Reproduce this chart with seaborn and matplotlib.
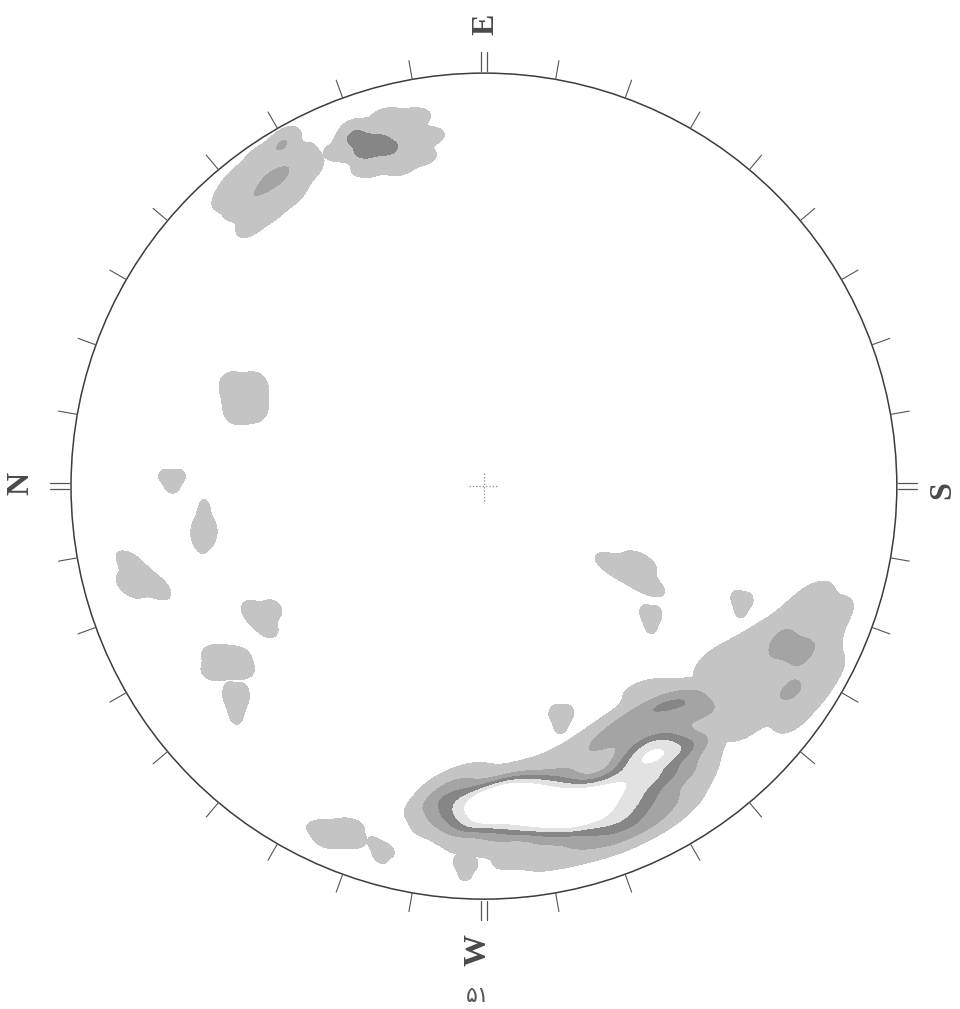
import matplotlib
matplotlib.use("Agg")
import matplotlib.pyplot as plt
from matplotlib.patches import Circle
from matplotlib.colors import ListedColormap, BoundaryNorm
import numpy as np
import seaborn as sns

# Poles on the equal-area net, primitive circle radius = 100.
# Each entry: (x, y, number of poles)
set_a = [(-61.0, 24.2, 1), (-55.5, 24.2, 1), (-60.0, 18.4, 1), (-55.5, 19.0, 1)]
set_b = [(-77.0, 2.4, 1), (-74.1, 2.4, 1), (-75.5, 0.0, 1)]
set_c = [(-67.8, -6.3, 1), (-69.5, -11.1, 1), (-66.1, -11.1, 1), (-68.0, -13.1, 1)]
set_d = [(-85.7, -18.6, 1), (-85.7, -24.2, 1), (-79.2, -24.5, 1), (-82.6, -22.3, 1)]
set_e = [(-56.2, -30.0, 1), (-51.3, -29.8, 1), (-52.3, -34.4, 1), (-54.7, -32.0, 1)]
set_f = [(-64.9, -40.7, 1), (-60.0, -41.2, 1), (-65.1, -44.8, 1), (-59.1, -44.5, 1)]
set_g = [(-61.5, -50.4, 1), (-58.6, -50.6, 1), (-60.0, -54.7, 1)]
set_j1 = [(-39.2, -82.8, 1), (-32.9, -82.3, 1), (-37.3, -85.7, 1), (-32.0, -85.7, 1)]
set_j2 = [(-26.4, -86.7, 1), (-23.5, -88.1, 1), (-25.2, -89.6, 1)]
set_k = [(-5.8, -91.0, 1), (-3.1, -91.3, 1), (-4.6, -93.7, 1)]
set_l = [(31.0, -18.9, 1), (37.8, -18.4, 1), (39.7, -24.0, 1), (35.3, -21.3, 1)]
set_l2 = [(39.2, -30.7, 1), (41.6, -31.0, 1), (40.4, -33.7, 1)]
set_m = [(61.3, -27.1, 1), (63.7, -27.6, 1), (62.2, -30.0, 1)]
set_n = [(17.4, -55.0, 1), (20.1, -55.0, 1), (18.6, -57.9, 1)]

set_h = [(-59.6, 74.1, 1), (-54.7, 78.9, 1), (-48.9, 82.6, 2), (-44.5, 79.4, 1),
         (-49.4, 75.3, 2), (-52.3, 73.6, 2), (-55.4, 70.4, 1), (-46.5, 71.2, 1),
         (-59.1, 68.0, 1), (-56.2, 63.9, 1), (-51.3, 67.3, 1), (-62.0, 70.4, 1),
         (-42.6, 76.8, 1)]

set_i = [(-34.9, 80.9, 1), (-30.5, 86.7, 1), (-23.2, 89.3, 1), (-16.9, 89.3, 1),
         (-13.6, 84.7, 1), (-15.5, 79.9, 1), (-20.8, 77.5, 1), (-28.1, 77.0, 1),
         (-31.2, 84.2, 2), (-27.1, 83.0, 3), (-23.2, 81.3, 2), (-28.8, 80.6, 2),
         (-24.7, 84.2, 1), (-19.4, 83.8, 1)]

set_arm = [(80.1, -27.6, 1), (85.0, -31.2, 1), (76.5, -30.5, 1), (72.4, -34.4, 1),
           (66.8, -37.3, 1), (60.8, -40.9, 1), (55.2, -43.8, 1), (55.9, -51.8, 1),
           (62.0, -49.4, 1), (68.0, -52.3, 1), (74.6, -55.4, 1), (63.2, -57.1, 1),
           (55.9, -58.6, 1), (81.8, -38.5, 1), (82.8, -44.5, 1), (79.4, -49.9, 1),
           (77.0, -42.6, 1), (66.8, -44.1, 1),
           (72.1, -38.5, 3), (76.5, -39.7, 3), (74.1, -49.4, 3)]

set_core = [
    # main maximum, western lobe
    (0.7, -75.3, 7), (0.7, -79.4, 7), (6.3, -73.6, 7), (6.3, -79.7, 7),
    (12.3, -74.1, 7), (12.3, -80.4, 7), (18.4, -74.8, 7), (18.4, -80.4, 7),
    (23.7, -76.0, 7), (23.7, -80.9, 7),
    # main maximum, eastern lobe
    (28.1, -76.0, 5), (32.9, -71.2, 5), (37.8, -65.9, 5), (41.4, -61.5, 5),
    (31.7, -80.9, 5), (36.6, -76.0, 5), (40.7, -70.7, 5), (43.8, -65.1, 5),
    # flanks
    (-9.4, -76.0, 3), (-7.0, -78.9, 3), (44.5, -52.5, 3), (49.9, -52.5, 3),
    (54.2, -54.7, 3),
    (-5.8, -72.4, 2), (-5.3, -82.8, 2), (2.7, -86.4, 2), (12.3, -87.6, 2),
    (22.0, -86.9, 2), (31.0, -85.2, 2), (39.0, -81.3, 2), (45.5, -76.0, 2),
    (49.4, -69.2, 2), (49.9, -62.7, 2), (22.0, -67.5, 2), (28.8, -62.7, 2),
    (34.1, -58.6, 2), (39.0, -54.7, 2),
    # margins
    (-14.3, -77.2, 1), (-10.7, -71.7, 1), (-3.4, -68.3, 1), (7.5, -68.0, 1),
    (17.2, -65.1, 1), (25.7, -61.0, 1), (31.7, -56.7, 1), (35.8, -49.4, 1),
    (41.4, -48.2, 1), (-13.1, -82.1, 1), (-6.3, -87.6, 1), (3.9, -92.0, 1),
    (13.6, -92.5, 1), (23.2, -90.1, 1), (32.9, -87.2, 1), (41.4, -82.8, 1),
    (47.5, -78.0, 1), (51.8, -71.7, 1), (53.5, -65.1, 1), (54.7, -60.3, 1),
    (52.3, -47.0, 1)]

cardinal_labels = ["E", "N", "W", "S"]   # at 90, 180, 270, 0 degrees
figure_number = "۵۱"

LIGHT, MID, DARK, PALE, WHITE = "#c4c4c4", "#a4a4a4", "#868686", "#e2e2e2", "#ffffff"

sns.set_theme(style="white")
plt.rcParams["font.family"] = ["DejaVu Sans"]

fig = plt.figure(figsize=(9.6, 10.09), dpi=100)
ax = fig.add_axes([0, 0, 1, 1])


def density(points, levels, colors, bw_adjust=1.0):
    arr = np.asarray(points, dtype=float)
    sns.kdeplot(x=arr[:, 0], y=arr[:, 1], weights=arr[:, 2], fill=True,
                levels=levels, bw_adjust=bw_adjust, ax=ax)
    cset = ax.collections[-1]
    # one grey per density band
    cset.set_cmap(ListedColormap(colors))
    cset.set_norm(BoundaryNorm(cset.levels, len(colors)))


for pts in [set_a, set_b, set_c, set_d, set_e, set_f, set_g, set_j1, set_j2,
            set_k, set_l, set_l2, set_m, set_n]:
    density(pts, [0.18, 1], [LIGHT])

density(set_h, [0.04, 0.82, 1], [LIGHT, MID], bw_adjust=0.6)
density(set_i, [0.04, 0.6, 1], [LIGHT, DARK], bw_adjust=0.6)
density(set_arm, [0.05, 0.8, 1], [LIGHT, MID], bw_adjust=0.6)
density(set_core, [0.05, 0.2, 0.38, 0.5, 0.66, 1],
        [LIGHT, MID, DARK, PALE, WHITE], bw_adjust=0.55)

# keep the shading inside the primitive circle
clip = Circle((0, 0), 100, transform=ax.transData)
for coll in ax.collections:
    coll.set_clip_path(clip)

# primitive circle
ax.add_patch(Circle((0, 0), 100, fill=False, lw=1.1, ec="#3c3c3c", zorder=5))

# 10-degree ticks and doubled cardinal marks
for az in range(0, 360, 10):
    t = np.deg2rad(az)
    u = np.array([np.cos(t), np.sin(t)])
    if az % 90 == 0:
        p = np.array([-np.sin(t), np.cos(t)])
        for off in (-0.75, 0.75):
            a = u * 100.4 + p * off
            b = u * 105.0 + p * off
            ax.plot([a[0], b[0]], [a[1], b[1]], color="#555555", lw=0.9, zorder=5)
    else:
        a, b = u * 100, u * 104.6
        ax.plot([a[0], b[0]], [a[1], b[1]], color="#555555", lw=0.8, zorder=5)

# centre cross
ax.plot([-3.7, 3.4], [0, 0], color="#8a8a8a", lw=0.9, ls=":", zorder=5)
ax.plot([0, 0], [-3.7, 3.5], color="#8a8a8a", lw=0.9, ls=":", zorder=5)

label_pos = [(0.5, 111.9), (-112.1, 0.7), (-1.5, -112.3), (111.1, -1.0)]
for txt, (x, y) in zip(cardinal_labels, label_pos):
    ax.text(x, y, txt, rotation=90, ha="center", va="center", fontsize=23,
            fontweight="bold", family=["Liberation Serif", "DejaVu Serif"],
            color="#4a4a4a")

ax.text(-1.5, -123.5, figure_number, ha="center", va="center", fontsize=16,
        family=["DejaVu Sans"], color="#555555")

ax.set_xlim(-117.2, 115.3)
ax.set_ylim(-126.6, 117.7)
ax.set_axis_off()

fig.savefig("out.png", dpi=100)
